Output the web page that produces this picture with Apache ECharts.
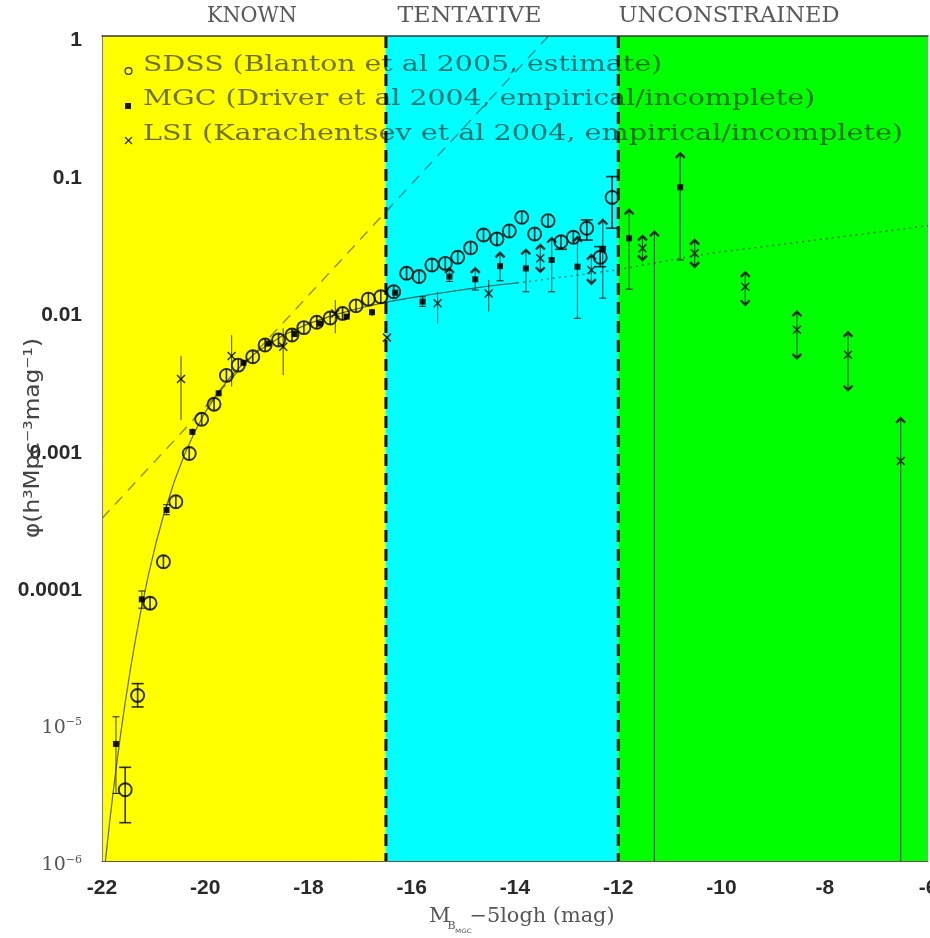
<!DOCTYPE html>
<html>
<head>
<meta charset="utf-8">
<script src="https://cdn.jsdelivr.net/npm/echarts@6/dist/echarts.min.js"></script>
<style>
  html, body { margin: 0; padding: 0; background: #ffffff; }
  #chart { width: 930px; height: 938px; }
</style>
</head>
<body>
<div id="chart"></div>
<script>
// ---------------------------------------------------------------------------
// Galaxy luminosity function: phi (h^3 Mpc^-3 mag^-1) against M_B - 5 log h
// ---------------------------------------------------------------------------

// Magnitude regimes
const regionNames = ['KNOWN', 'TENTATIVE', 'UNCONSTRAINED'];
const regionEdges = [-22, -16.5, -12, -6];

// Legend labels
const legendLabels = [
  'SDSS (Blanton et al 2005, estimate)',
  'MGC (Driver et al 2004, empirical/incomplete)',
  'LSI (Karachentsev et al 2004, empirical/incomplete)'
];

// Axis ranges
const magMin = -22, magMax = -6, magStep = 2;
const phiMin = 1e-6, phiMax = 1;

// SDSS (open circles)
const sdssMag = [-21.55, -21.31, -21.07, -20.81, -20.57, -20.31, -20.07, -19.83, -19.59, -19.36,
                 -19.08, -18.84, -18.58, -18.32, -18.09, -17.84, -17.58, -17.34, -17.08, -16.84,
                 -16.60, -16.35, -16.10, -15.86, -15.61, -15.35, -15.11, -14.86, -14.61, -14.35,
                 -14.11, -13.87, -13.62, -13.36, -13.11, -12.87, -12.61, -12.35, -12.12];
const sdssPhi = [3.3e-6, 1.6e-5, 7.5e-5, 1.5e-4, 4.1e-4, 9.2e-4, 1.63e-3, 2.1e-3, 3.4e-3, 4.04e-3,
                 4.65e-3, 5.66e-3, 6.15e-3, 6.69e-3, 7.57e-3, 8.28e-3, 8.9e-3, 9.6e-3, 1.09e-2, 1.22e-2,
                 1.27e-2, 1.38e-2, 1.88e-2, 1.78e-2, 2.16e-2, 2.22e-2, 2.46e-2, 2.88e-2, 3.57e-2, 3.34e-2,
                 3.82e-2, 4.8e-2, 3.63e-2, 4.54e-2, 3.19e-2, 3.44e-2, 4.0e-2, 2.46e-2, 6.7e-2];
const sdssLo  = [1.9e-6, 1.32e-5, 6.7e-5, 1.35e-4, 3.7e-4, 8.3e-4, 1.47e-3, 1.89e-3, 3.06e-3, 3.64e-3,
                 4.19e-3, 5.1e-3, 5.54e-3, 6.03e-3, 6.82e-3, 7.46e-3, 8.02e-3, 8.65e-3, 9.82e-3, 1.1e-2,
                 1.144e-2, 1.243e-2, 1.69e-2, 1.6e-2, 1.95e-2, 2.0e-2, 2.22e-2, 2.59e-2, 3.22e-2, 3.01e-2,
                 3.44e-2, 4.32e-2, 3.27e-2, 4.09e-2, 2.81e-2, 3.1e-2, 3.28e-2, 2.1e-2, 4.0e-2];
const sdssHi  = [4.8e-6, 1.95e-5, 8.4e-5, 1.67e-4, 4.55e-4, 1.02e-3, 1.81e-3, 2.33e-3, 3.77e-3, 4.48e-3,
                 5.16e-3, 6.28e-3, 6.83e-3, 7.43e-3, 8.4e-3, 9.19e-3, 9.88e-3, 1.066e-2, 1.21e-2, 1.354e-2,
                 1.41e-2, 1.532e-2, 2.09e-2, 1.98e-2, 2.4e-2, 2.46e-2, 2.73e-2, 3.2e-2, 3.96e-2, 3.71e-2,
                 4.24e-2, 5.33e-2, 4.03e-2, 5.04e-2, 3.57e-2, 3.78e-2, 4.6e-2, 2.94e-2, 9.5e-2];

// MGC (filled squares); null = no measured point, only the limit bar
const mgcMag = [-21.73, -21.23, -20.75, -20.25, -19.74, -19.26, -18.78, -18.27, -17.78, -17.26,
                -16.77, -16.32, -15.79, -15.27, -14.77, -14.29, -13.79, -13.29, -12.79, -12.30,
                -11.79, -11.30, -10.80];
const mgcPhi = [7.1e-6, 8.0e-5, 3.57e-4, 1.32e-3, 2.52e-3, 4.2e-3, 5.8e-3, 6.8e-3, 8.1e-3, 9.1e-3,
                9.8e-3, 1.36e-2, 1.17e-2, 1.78e-2, 1.7e-2, 2.12e-2, 2.04e-2, 2.35e-2, 2.1e-2, 2.8e-2,
                3.38e-2, null, 7.94e-2];
const mgcLo  = [3.1e-6, 6.9e-5, 3.3e-4, 1.25e-3, 2.4e-3, 4.0e-3, 5.55e-3, 6.5e-3, 7.75e-3, 8.7e-3,
                9.2e-3, 1.3e-2, 1.08e-2, 1.64e-2, 1.42e-2, 1.66e-2, 1.38e-2, 1.38e-2, 8.85e-3, 1.24e-2,
                1.44e-2, 1e-6, 2.35e-2];
const mgcHi  = [1.12e-5, 9.2e-5, 3.9e-4, 1.4e-3, 2.65e-3, 4.4e-3, 6.05e-3, 7.1e-3, 8.45e-3, 9.5e-3,
                1.04e-2, 1.42e-2, 1.27e-2, 2.04e-2, 2.04e-2, 2.65e-2, 2.78e-2, 3.38e-2, 3.44e-2, 4.59e-2,
                5.43e-2, 3.77e-2, 1.40e-1];
const mgcUpArrow = [0, 0, 0, 0, 0, 0, 0, 0, 0, 0,
                    0, 0, 0, 1, 1, 1, 1, 1, 1, 1,
                    1, 1, 1];

// LSI (crosses)
const lsiMag = [-20.47, -19.49, -18.49, -17.48, -16.48, -15.50, -14.51, -13.51, -12.52, -11.53,
                -10.52, -9.54, -8.54, -7.55, -6.53];
const lsiPhi = [3.2e-3, 4.7e-3, 5.5e-3, 9.6e-3, 6.4e-3, 1.14e-2, 1.34e-2, 2.42e-2, 1.99e-2, 2.86e-2,
                2.63e-2, 1.5e-2, 7.3e-3, 4.8e-3, 8.1e-4];
const lsiLo  = [1.61e-3, 2.82e-3, 3.42e-3, 6.9e-3, 6.4e-3, 8.1e-3, 9.9e-3, 1.93e-2, 1.58e-2, 2.35e-2,
                2.1e-2, 1.11e-2, 4.53e-3, 2.66e-3, 1e-6];
const lsiHi  = [4.71e-3, 6.68e-3, 7.48e-3, 1.2e-2, 6.4e-3, 1.38e-2, 1.68e-2, 3.02e-2, 2.55e-2, 3.51e-2,
                3.28e-2, 1.91e-2, 9.9e-3, 7.0e-3, 1.66e-3];
const lsiUpArrow   = [0, 0, 0, 0, 0, 0, 0, 1, 1, 1, 1, 1, 1, 1, 1];
const lsiDownArrow = [0, 0, 0, 0, 0, 0, 0, 1, 1, 1, 1, 1, 1, 1, 0];

// Schechter-type fit: solid where constrained, dotted extrapolation
const fitMag = [-21.95, -21.85, -21.75, -21.65, -21.55, -21.45, -21.35, -21.25, -21.1, -20.95,
                -20.8, -20.6, -20.4, -20.2, -20.0, -19.75, -19.5, -19.25, -19.0, -18.5,
                -18.0, -17.5, -17.0, -16.5, -16.0, -15.5, -15.0, -14.5, -13.96];
const fitPhi = [8.8e-7, 1.95e-6, 4.03e-6, 7.8e-6, 1.43e-5, 2.48e-5, 4.11e-5, 6.52e-5, 1.21e-4, 2.08e-4,
                3.34e-4, 5.75e-4, 9.08e-4, 1.33e-3, 1.84e-3, 2.56e-3, 3.36e-3, 4.19e-3, 5.04e-3, 6.64e-3,
                8.09e-3, 9.38e-3, 1.052e-2, 1.159e-2, 1.25e-2, 1.34e-2, 1.43e-2, 1.52e-2, 1.6e-2];
const extMag = [-13.96, -13.0, -12.0, -10.4, -8.5, -6.0];
const extPhi = [1.6e-2, 1.78e-2, 2.0e-2, 2.57e-2, 3.17e-2, 4.17e-2];

// Straight power-law guide (dashed)
const guideMag = [-22, -13.35];
const guidePhi = [3.1e-4, 1.0];

// ---------------------------------------------------------------------------
const regionColors = ['#ffff00', '#00ffff', '#00ff00'];
const ink = 'rgba(0,0,0,0.82)';
const barInk = 'rgba(0,0,0,0.62)';

const measureCtx = document.createElement('canvas').getContext('2d');
function textWidth(str, font) { measureCtx.font = font; return measureCtx.measureText(str).width; }

function upArrow(x, y) {
  return { type: 'polyline', shape: { points: [[x - 4.5, y + 4.5], [x, y], [x + 4.5, y + 4.5]] },
           style: { stroke: ink, fill: 'none', lineWidth: 2.4 } };
}
function downArrow(x, y) {
  return { type: 'polyline', shape: { points: [[x - 4.5, y - 4.5], [x, y], [x + 4.5, y - 4.5]] },
           style: { stroke: ink, fill: 'none', lineWidth: 2.4 } };
}
function cap(x, y, w, lw) {
  return { type: 'line', shape: { x1: x - w / 2, y1: y, x2: x + w / 2, y2: y }, style: { stroke: ink, lineWidth: lw } };
}

// Builds the renderer for one survey: error bar, end caps / limit arrows, marker
function surveyRenderer(kind, phi, upFlags, downFlags) {
  return function (params, api) {
    const i = params.dataIndex;
    const cs = params.coordSys;
    const base = cs.y + cs.height;
    const m = api.value(0);
    const lo = api.value(1), hi = api.value(2);
    const x = api.coord([m, hi])[0];
    const yLo = lo <= phiMin ? base : api.coord([m, lo])[1];
    const yHi = api.coord([m, hi])[1];
    const yP = phi[i] ? api.coord([m, phi[i]])[1] : null;
    const kids = [];
    const lw = kind === 'sdss' ? 1.6 : 1.2;
    kids.push({ type: 'line', shape: { x1: x, y1: yLo, x2: x, y2: yHi }, style: { stroke: kind === 'sdss' ? ink : barInk, lineWidth: lw } });

    if (kind === 'sdss') {
      const r = 6.5;
      if (yLo - yP > r + 1) kids.push(cap(x, yLo, 12, 1.6));
      if (yP - yHi > r + 1) kids.push(cap(x, yHi, 12, 1.6));
      kids.push({ type: 'circle', shape: { cx: x, cy: yP, r: r }, style: { fill: 'none', stroke: ink, lineWidth: 1.9 } });
    } else if (kind === 'mgc') {
      if (lo > phiMin && yLo - (yP || 0) > 4) kids.push(cap(x, yLo, 7, 1.1));
      if (upFlags[i]) kids.push(upArrow(x, yHi));
      else if (yP !== null && yP - yHi > 4) kids.push(cap(x, yHi, 7, 1.1));
      if (yP !== null) kids.push({ type: 'rect', shape: { x: x - 3, y: yP - 3, width: 6, height: 6 }, style: { fill: 'rgba(0,0,0,0.9)' } });
    } else {
      if (upFlags[i]) kids.push(upArrow(x, yHi));
      if (downFlags[i]) kids.push(downArrow(x, yLo));
      const d = 4;
      kids.push({ type: 'line', shape: { x1: x - d, y1: yP - d, x2: x + d, y2: yP + d }, style: { stroke: ink, lineWidth: 1.5 } });
      kids.push({ type: 'line', shape: { x1: x - d, y1: yP + d, x2: x + d, y2: yP - d }, style: { stroke: ink, lineWidth: 1.5 } });
    }
    return { type: 'group', children: kids };
  };
}

function pairs(xs, ys) { return xs.map((x, i) => [x, ys[i]]); }
function bars(mags, lo, hi) { return mags.map((m, i) => [m, lo[i], hi[i]]); }

// Text placed around the frame
const serif = '"DejaVu Serif", "Liberation Serif", serif';
const sans = '"DejaVu Sans", "Liberation Sans", sans-serif';
const graphics = [];

const regionLabelX = [252, 469.5, 729];
const regionLabelW = [90, 144, 221];
regionNames.forEach((name, i) => {
  const font = '23px ' + serif;
  graphics.push({
    type: 'text', x: regionLabelX[i], y: 16, z: 100,
    scaleX: regionLabelW[i] / textWidth(name, font),
    style: { text: name, font: font, fill: '#5a5a5a', align: 'center', verticalAlign: 'middle' }
  });
});

const legendY = [65, 99, 134.5];
const legendRight = [662, 815, 903];
legendLabels.forEach((label, i) => {
  const font = '23px ' + serif;
  graphics.push({
    type: 'text', x: 143, y: legendY[i], z: 100,
    scaleX: (legendRight[i] - 143) / textWidth(label, font),
    style: { text: label, font: font, fill: 'rgba(0,0,0,0.56)', align: 'left', verticalAlign: 'middle' }
  });
});
graphics.push({ type: 'circle', z: 100, shape: { cx: 128.5, cy: 71, r: 3.4 }, style: { fill: 'none', stroke: ink, lineWidth: 1.3 } });
graphics.push({ type: 'rect', z: 100, shape: { x: 125, y: 103, width: 6, height: 6 }, style: { fill: 'rgba(0,0,0,0.9)' } });
graphics.push({ type: 'line', z: 100, shape: { x1: 125, y1: 137, x2: 132, y2: 144 }, style: { stroke: ink, lineWidth: 1.2 } });
graphics.push({ type: 'line', z: 100, shape: { x1: 125, y1: 144, x2: 132, y2: 137 }, style: { stroke: ink, lineWidth: 1.2 } });

// x-axis title with nested subscript
graphics.push({ type: 'text', x: 429, y: 917, z: 100, style: { text: 'M', font: '21px ' + serif, fill: '#555', verticalAlign: 'middle' } });
graphics.push({ type: 'text', x: 447.5, y: 926, z: 100, style: { text: 'B', font: '11px ' + serif, fill: '#555', verticalAlign: 'middle' } });
graphics.push({ type: 'text', x: 455, y: 931, z: 100, scaleX: 1.2, style: { text: 'MGC', font: '6px ' + sans, fill: '#555', verticalAlign: 'middle' } });
(function () {
  const t = '\u22125logh (mag)';
  const font = '20px ' + serif;
  graphics.push({ type: 'text', x: 469.5, y: 917, z: 100, scaleX: 145 / textWidth(t, font),
                  style: { text: t, font: font, fill: '#555', verticalAlign: 'middle' } });
})();

// y-axis title
(function () {
  const t = '\u03c6(h\u00b3Mpc\u207b\u00b3mag\u207b\u00b9)';
  const font = '21px ' + sans;
  graphics.push({ type: 'text', x: 34, y: 438, z: 100, rotation: Math.PI / 2,
                  scaleX: 200 / textWidth(t, font),
                  style: { text: t, font: font, fill: '#444', align: 'center', verticalAlign: 'middle' } });
})();

const option = {
  animation: false,
  backgroundColor: '#ffffff',
  grid: { left: 102, right: 2, top: 36, bottom: 77, containLabel: false, outerBoundsMode: 'none' },
  xAxis: [{
    type: 'value', min: magMin, max: magMax, interval: magStep, z: 10,
    axisLine: { show: true, onZero: false, lineStyle: { color: '#5a5a4a', width: 1 } },
    axisTick: { show: false }, splitLine: { show: false },
    axisLabel: { margin: 17, fontSize: 21, fontWeight: 'bold', color: '#2a2a2a', fontFamily: 'Liberation Sans',
                 showMinLabel: true, showMaxLabel: true }
  }, {
    type: 'value', position: 'top', min: magMin, max: magMax, interval: magStep, z: 10,
    axisLine: { show: true, onZero: false, lineStyle: { color: '#3a3a3a', width: 1.5 } },
    axisTick: { show: false }, splitLine: { show: false }, axisLabel: { show: false }
  }],
  yAxis: {
    type: 'log', logBase: 10, min: phiMin, max: phiMax, splitNumber: 6, z: 10,
    axisLine: { show: true, onZero: false, lineStyle: { color: '#8a8050', width: 1 } },
    axisTick: { show: false }, splitLine: { show: false },
    axisLabel: {
      margin: 20, fontSize: 21, fontWeight: 'bold', color: '#2a2a2a', fontFamily: 'Liberation Sans',
      padding: [9, 0, 0, 0],
      formatter: function (v) {
        const e = Math.round(Math.log10(v));
        if (e === 0) return '1';
        if (e >= -4) return v.toFixed(-e);
        return '{m|10}{e|\u2212' + (-e) + '}';
      },
      rich: {
        m: { fontFamily: 'DejaVu Serif', fontSize: 19, fontWeight: 'normal', color: '#555', lineHeight: 22 },
        e: { fontFamily: 'DejaVu Serif', fontSize: 11, fontWeight: 'normal', color: '#555', verticalAlign: 'top', lineHeight: 12 }
      }
    }
  },
  graphic: graphics,
  series: [
    {
      type: 'custom', z: 1, silent: true,
      data: regionNames.map((n, i) => [regionEdges[i], regionEdges[i + 1]]),
      encode: { x: [0, 1] },
      renderItem: function (params, api) {
        const cs = params.coordSys;
        const x0 = api.coord([api.value(0), phiMax])[0];
        const x1 = api.coord([api.value(1), phiMax])[0];
        return { type: 'rect', shape: { x: x0, y: cs.y, width: x1 - x0, height: cs.height },
                 style: { fill: regionColors[params.dataIndex] } };
      }
    },
    {
      type: 'line', z: 2, silent: true, showSymbol: false, data: pairs(guideMag, guidePhi),
      lineStyle: { color: 'rgba(0,0,0,0.42)', width: 1.5, type: [11, 8] }
    },
    {
      type: 'line', z: 2, silent: true, showSymbol: false, clip: true, data: pairs(fitMag, fitPhi),
      lineStyle: { color: 'rgba(0,0,0,0.6)', width: 1.2 }
    },
    {
      type: 'line', z: 2, silent: true, showSymbol: false, data: pairs(extMag, extPhi),
      lineStyle: { color: 'rgba(0,0,0,0.5)', width: 1.5, type: [2, 4] }
    },
    {
      type: 'custom', z: 3, silent: true,
      data: regionEdges.slice(1, -1).map(v => [v]),
      encode: { x: 0 },
      renderItem: function (params, api) {
        const cs = params.coordSys;
        const x = api.coord([api.value(0), phiMax])[0];
        return { type: 'line', shape: { x1: x, y1: cs.y, x2: x, y2: cs.y + cs.height },
                 style: { stroke: '#111', lineWidth: 3, lineDash: [12, 7] } };
      }
    },
    {
      type: 'custom', z: 4, silent: true, name: 'SDSS',
      data: bars(sdssMag, sdssLo, sdssHi), encode: { x: 0, y: [1, 2] },
      renderItem: surveyRenderer('sdss', sdssPhi, null, null)
    },
    {
      type: 'custom', z: 4, silent: true, name: 'MGC',
      data: bars(mgcMag, mgcLo, mgcHi), encode: { x: 0, y: [1, 2] },
      renderItem: surveyRenderer('mgc', mgcPhi, mgcUpArrow, null)
    },
    {
      type: 'custom', z: 4, silent: true, name: 'LSI',
      data: bars(lsiMag, lsiLo, lsiHi), encode: { x: 0, y: [1, 2] },
      renderItem: surveyRenderer('lsi', lsiPhi, lsiUpArrow, lsiDownArrow)
    }
  ]
};

const chart = echarts.init(document.getElementById('chart'), null, { renderer: 'canvas' });
chart.setOption(option);
</script>
</body>
</html>
